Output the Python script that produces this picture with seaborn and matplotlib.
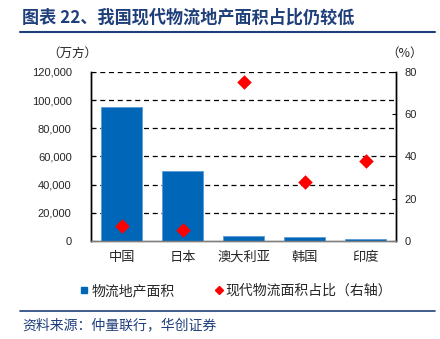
import matplotlib
matplotlib.use("Agg")
import matplotlib.pyplot as plt
from matplotlib.lines import Line2D
import seaborn as sns
import pandas as pd

# Data
countries = ["中国", "日本", "澳大利亚", "韩国", "印度"]
area_wanfang = [95000, 50000, 3500, 3000, 1200]
modern_share_pct = [7, 5, 75, 28, 38]
left_ticks = [0, 20000, 40000, 60000, 80000, 100000, 120000]
right_ticks = [0, 20, 40, 60, 80]

sns.set_theme(style="white")
plt.rcParams["font.family"] = ["Liberation Sans", "Noto Sans CJK SC", "DejaVu Sans"]
cjk = ["Noto Sans CJK SC", "DejaVu Sans"]

BAR = "#0066B8"
RED = "#FF0000"
NAVY = "#1F3F7A"

df = pd.DataFrame({"country": countries, "area": area_wanfang, "share": modern_share_pct})

fig = plt.figure(figsize=(4.40, 3.39), dpi=100)
ax = fig.add_axes([0.207, 0.289, 0.693, 0.499])

sns.barplot(data=df, x="country", y="area", color=BAR, saturation=1, width=0.66,
            edgecolor="#5B9BD5", linewidth=0.6, ax=ax, zorder=3)
ax.set_ylim(0, 120000)
ax.set_xlim(-0.5, len(countries) - 0.5)
ax.set_yticks(left_ticks)
ax.set_yticklabels([f"{v:,}" for v in left_ticks], fontsize=8)
ax.set_xlabel("")
ax.set_ylabel("")
ax.tick_params(axis="y", direction="in", length=3, width=0.8, color="black", pad=14, left=True)
ax.tick_params(axis="x", length=0, pad=7)
for lbl in ax.get_xticklabels():
    lbl.set_fontfamily(cjk)
    lbl.set_fontsize(9.5)
for v in left_ticks[1:]:
    ax.axhline(v, color="black", lw=0.9, ls=(0, (4, 3)), zorder=1)

ax2 = ax.twinx()
sns.scatterplot(data=df, x="country", y="share", marker="D", color=RED, s=55,
                edgecolor=RED, linewidth=0, ax=ax2, zorder=5)
ax2.set_ylim(0, 80)
ax2.set_yticks(right_ticks)
ax2.set_yticklabels([str(v) for v in right_ticks], fontsize=8)
ax2.set_ylabel("")
ax2.tick_params(axis="y", direction="in", length=3, width=0.8, color="black", pad=6, right=True)

for a in (ax, ax2):
    a.spines["top"].set_visible(False)
    a.spines["left"].set_color("black")
    a.spines["right"].set_color("black")
    a.spines["bottom"].set_color("#7F7F7F")
    for s in ("left", "right", "bottom"):
        a.spines[s].set_linewidth(1.0)

# Title and rules
fig.text(22 / 440, 1 - 18 / 339, "图表 22、我国现代物流地产面积占比仍较低", fontsize=12.3,
         fontweight="bold", color=NAVY, family=cjk, va="center", ha="left")
fig.add_artist(Line2D([20 / 440, 435 / 440], [1 - 32 / 339] * 2, color=NAVY, lw=1.5))
fig.add_artist(Line2D([20 / 440, 435 / 440], [1 - 311 / 339] * 2, color=NAVY, lw=1.2))
fig.text(22 / 440, 1 - 325 / 339, "资料来源：仲量联行，华创证券", fontsize=10, style="italic",
         color=NAVY, family=cjk, va="center", ha="left")

# Unit labels
fig.text(72 / 440, 1 - 53 / 339, "（万方）", fontsize=9, family=cjk, ha="center", va="center")
fig.text(405 / 440, 1 - 53 / 339, "（%）", fontsize=9, family=cjk, ha="center", va="center")

# Legend
handles = [
    Line2D([], [], marker="s", ls="", color=BAR, markersize=5),
    Line2D([], [], marker="D", ls="", color=RED, markersize=4.5),
]
fig.legend(handles, ["物流地产面积", "现代物流面积占比（右轴）"], loc="center",
           bbox_to_anchor=(0.535, 1 - 291 / 339), ncol=2, frameon=False,
           prop={"family": cjk, "size": 10}, handletextpad=0.1, columnspacing=2.8,
           handlelength=0.8)

fig.savefig("out.png", dpi=100)
